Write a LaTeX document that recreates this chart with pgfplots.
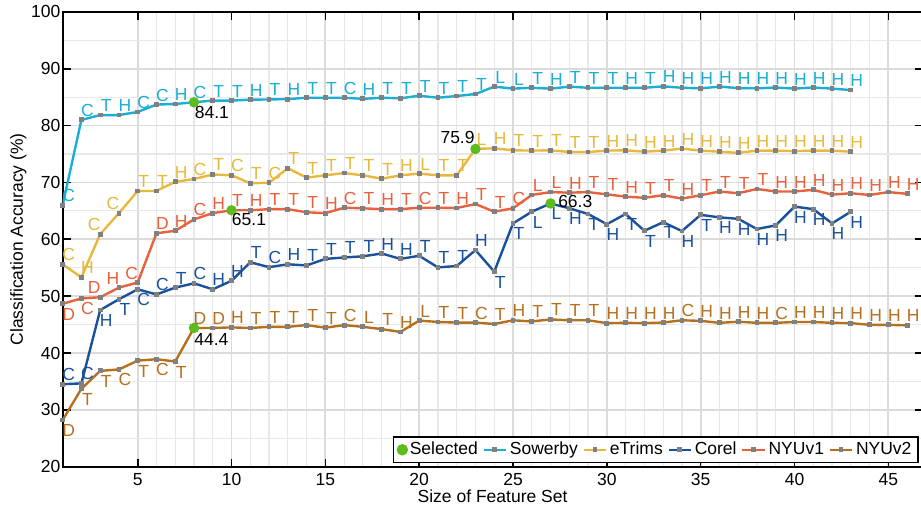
\documentclass[border=0pt]{standalone}
\usepackage{fontspec}
\setmainfont{Liberation Sans}
\usepackage{pgfplots}
\usepackage{pgfplotstable}
\pgfplotsset{compat=1.18}
\definecolor{csow}{HTML}{1BAED4}
\definecolor{cetr}{HTML}{E8B83C}
\definecolor{ccor}{HTML}{1A519C}
\definecolor{cny1}{HTML}{E8603C}
\definecolor{cny2}{HTML}{B5701E}
\definecolor{cgrn}{HTML}{5CBC1E}
\definecolor{mgray}{HTML}{808080}

\pgfplotstableread{
x y lab
1 66.0 C
2 81.0 C
3 81.85 T
4 81.85 H
5 82.4 C
6 83.7 C
7 83.8 H
8 84.1 C
9 84.4 T
10 84.4 T
11 84.55 H
12 84.6 T
13 84.65 H
14 84.9 T
15 84.9 T
16 84.9 C
17 84.7 H
18 84.9 T
19 84.8 T
20 85.25 T
21 84.9 T
22 85.2 T
23 85.55 T
24 86.85 L
25 86.5 L
26 86.65 T
27 86.5 H
28 86.85 T
29 86.65 T
30 86.65 T
31 86.65 H
32 86.65 T
33 86.9 H
34 86.65 H
35 86.55 H
36 86.85 H
37 86.6 H
38 86.55 H
39 86.7 H
40 86.5 H
41 86.7 H
42 86.5 H
43 86.25 H
}\sow

\pgfplotstableread{
x y lab
1 55.6 C
2 53.3 H
3 60.9 C
4 64.6 C
5 68.5 T
6 68.5 T
7 70.1 H
8 70.6 C
9 71.4 T
10 71.25 C
11 69.85 T
12 69.95 C
13 72.5 T
14 70.85 T
15 71.25 T
16 71.65 T
17 71.25 T
18 70.65 T
19 71.25 H
20 71.55 L
21 71.25 T
22 71.25 T
23 75.9 L
24 76.0 H
25 75.65 T
26 75.6 T
27 75.65 T
28 75.35 T
29 75.35 T
30 75.6 H
31 75.65 H
32 75.4 H
33 75.6 H
34 75.95 H
35 75.6 H
36 75.4 H
37 75.2 H
38 75.6 H
39 75.6 H
40 75.5 H
41 75.6 H
42 75.6 H
43 75.4 H
}\etr

\pgfplotstableread{
x y lab
1 34.5 C
2 34.65 C
3 47.55 H
4 49.45 T
5 51.2 C
6 50.3 C
7 51.5 T
8 52.25 C
9 51.2 H
10 52.7 H
11 55.95 T
12 55.1 C
13 55.6 H
14 55.4 T
15 56.55 T
16 56.8 T
17 57.0 T
18 57.5 H
19 56.55 H
20 57.1 T
21 55.05 T
22 55.3 T
23 58.1 H
24 54.3 T
25 62.8 T
26 64.85 L
27 66.3 L
28 65.45 H
29 64.45 T
30 62.65 H
31 64.45 T
32 61.5 T
33 63.0 T
34 61.45 H
35 64.3 T
36 63.85 H
37 63.6 H
38 61.8 H
39 62.45 H
40 65.75 H
41 65.3 H
42 62.8 H
43 64.85 H
}\cor

\pgfplotstableread{
x y lab
1 48.65 D
2 49.6 C
3 49.8 D
4 51.5 H
5 52.4 C
6 61.05 D
7 61.5 H
8 63.5 C
9 64.6 H
10 65.1 T
11 65.1 H
12 65.3 T
13 65.3 T
14 64.75 T
15 64.6 H
16 65.55 C
17 65.45 T
18 65.3 H
19 65.3 T
20 65.55 C
21 65.55 T
22 65.5 H
23 66.2 T
24 64.85 T
25 65.45 C
26 67.8 L
27 68.3 L
28 68.2 H
29 68.3 T
30 67.9 T
31 67.5 H
32 67.3 T
33 67.75 T
34 67.15 H
35 67.75 T
36 68.4 T
37 68.1 T
38 68.85 T
39 68.4 H
40 68.4 H
41 68.7 H
42 67.85 H
43 68.1 H
44 67.8 H
45 68.3 H
46 68.0 H
}\nya

\pgfplotstableread{
x y lab
1 28.2 D
2 33.7 T
3 36.85 T
4 37.1 C
5 38.65 T
6 38.9 C
7 38.5 T
8 44.4 D
9 44.4 D
10 44.5 H
11 44.4 T
12 44.6 T
13 44.6 T
14 44.9 T
15 44.45 T
16 44.9 C
17 44.6 L
18 44.2 T
19 43.7 H
20 45.7 L
21 45.45 T
22 45.35 T
23 45.35 C
24 45.1 T
25 45.75 H
26 45.55 T
27 45.9 T
28 45.75 T
29 45.75 T
30 45.25 H
31 45.3 H
32 45.25 H
33 45.35 H
34 45.75 C
35 45.65 H
36 45.3 H
37 45.5 H
38 45.3 H
39 45.3 C
40 45.45 H
41 45.45 H
42 45.3 H
43 45.25 H
44 44.95 H
45 44.95 H
46 44.85 H
}\nyb

\pgfplotstableread{
x y lab
8 84.1 84.1
23 75.9 75.9
10 65.1 65.1
27 66.3 66.3
8 44.4 44.4
}\sel

\pgfplotsset{
  ser/.style={
    color=#1, line width=1.2pt, mark=square*, mark size=0.95pt,
    mark options={draw=mgray, fill=mgray, line width=0pt},
  },
  lbl/.style={
    forget plot, only marks, mark=none, color=#1,
    point meta=explicit symbolic,
    nodes near coords,
    nodes near coords style={anchor=center, inner sep=0pt, text=#1},
  },
  lblA/.style={lbl=#1, nodes near coords style={xshift=3pt, yshift=4.75pt}},
  lblB/.style={lbl=#1, nodes near coords style={xshift=3pt, yshift=-5.25pt}},
  lblL/.style={lbl=#1, nodes near coords style={xshift=-3pt, yshift=4.75pt}},
  sval/.style={forget plot, only marks, mark=none, point meta=explicit symbolic,
    nodes near coords, nodes near coords style={inner sep=0pt, text=black}},
}

\begin{document}
\begin{tikzpicture}[font=\fontsize{8.75}{10.5}\selectfont]
\begin{axis}[
  scale only axis,
  width=429.93pt, height=227.4pt,
  xmin=1, xmax=46.82, ymin=20, ymax=100,
  xtick={5,10,...,45}, ytick={20,30,...,100},
  minor x tick num=4, minor y tick num=1,
  grid=both,
  major grid style={draw=black!14, line width=0.9pt},
  minor grid style={draw=black!9, line width=0.6pt},
  tick align=inside,
  major tick length=4pt, minor tick length=0pt,
  tick style={black, line width=0.8pt},
  axis line style={line width=1pt},
  /pgf/number format/assume math mode=true,
  yticklabel style={inner xsep=1pt},
  xlabel={Size of Feature Set},
  ylabel={Classification Accuracy (\%)},
  xlabel style={at={(rel axis cs:0.5,-0.0644)}, anchor=center},
  ylabel style={at={(rel axis cs:-0.0516,0.5)}, anchor=center},
  legend columns=6,
  legend image code/.code={\draw[mark repeat=2,mark phase=2] plot coordinates {(0pt,0pt) (5.6pt,0pt) (11.2pt,0pt)};},
  legend style={at={(rel axis cs:0.9959,0.007)}, anchor=south east, draw=black, line width=0.9pt,
    inner xsep=2pt, inner ysep=1pt, nodes={inner xsep=1.3pt, inner ysep=1.5pt},
    /tikz/every even column/.append style={column sep=1pt}},
]
\addlegendimage{only marks, mark=*, mark size=2.4pt, color=cgrn}
\addlegendentry{Selected}
\addplot[ser=csow] table[x=x,y=y] {\sow};
\addlegendentry{Sowerby}
\addplot[ser=cetr] table[x=x,y=y] {\etr};
\addlegendentry{eTrims}
\addplot[ser=ccor] table[x=x,y=y] {\cor};
\addlegendentry{Corel}
\addplot[ser=cny1] table[x=x,y=y] {\nya};
\addlegendentry{NYUv1}
\addplot[ser=cny2] table[x=x,y=y] {\nyb};
\addlegendentry{NYUv2}
% letter labels
\addplot[lblA=csow] table[x=x,y=y,meta=lab] {\sow};
\addplot[lblA=cetr, skip coords between index={2}{4}] table[x=x,y=y,meta=lab] {\etr};
\addplot[lblL=cetr, skip coords between index={0}{2}, skip coords between index={4}{100}] table[x=x,y=y,meta=lab] {\etr};
\addplot[lblA=ccor, skip coords between index={2}{5}, skip coords between index={23}{100}] table[x=x,y=y,meta=lab] {\cor};
\addplot[lblB=ccor, skip coords between index={0}{2}, skip coords between index={5}{23}] table[x=x,y=y,meta=lab] {\cor};
\addplot[lblB=cny1, skip coords between index={2}{100}] table[x=x,y=y,meta=lab] {\nya};
\addplot[lblL=cny1, skip coords between index={0}{2}, skip coords between index={5}{100}] table[x=x,y=y,meta=lab] {\nya};
\addplot[lblA=cny1, skip coords between index={0}{5}] table[x=x,y=y,meta=lab] {\nya};
\addplot[lblB=cny2, skip coords between index={7}{100}] table[x=x,y=y,meta=lab] {\nyb};
\addplot[lblA=cny2, skip coords between index={0}{7}] table[x=x,y=y,meta=lab] {\nyb};
% selected points
\addplot[forget plot, only marks, mark=*, mark size=2.4pt, color=cgrn] table[x=x,y=y] {\sel};
\addplot[sval, skip coords between index={1}{100}, nodes near coords style={anchor=west, xshift=0.25pt, yshift=-5.3pt}] table[x=x,y=y,meta=lab] {\sel};
\addplot[sval, skip coords between index={0}{1}, skip coords between index={2}{100}, nodes near coords style={anchor=east, xshift=-0.25pt, yshift=5.5pt}] table[x=x,y=y,meta=lab] {\sel};
\addplot[sval, skip coords between index={0}{2}, skip coords between index={3}{100}, nodes near coords style={anchor=west, xshift=0pt, yshift=-4.65pt}] table[x=x,y=y,meta=lab] {\sel};
\addplot[sval, skip coords between index={0}{3}, skip coords between index={4}{100}, nodes near coords style={anchor=west, xshift=3.65pt, yshift=0.8pt}] table[x=x,y=y,meta=lab] {\sel};
\addplot[sval, skip coords between index={0}{4}, nodes near coords style={anchor=west, xshift=0pt, yshift=-6pt}] table[x=x,y=y,meta=lab] {\sel};
\coordinate (bl) at (rel axis cs:0,0);
\coordinate (tr) at (rel axis cs:1,1);
\end{axis}
\pgfresetboundingbox
\path ([shift={(-31.32pt,-20.65pt)}]bl) rectangle ([shift={(-0.75pt,5.95pt)}]tr);
\end{tikzpicture}
\end{document}
